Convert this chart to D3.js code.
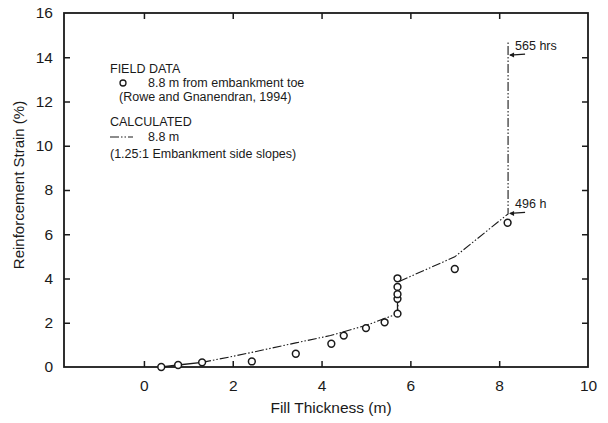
<!DOCTYPE html>
<html>
<head>
<meta charset="utf-8">
<script src="https://cdn.jsdelivr.net/npm/d3@7"></script>
<style>
  html, body { margin: 0; padding: 0; background: #fff; }
  svg { display: block; font-family: "Liberation Sans", Arial, Helvetica, sans-serif; }
</style>
</head>
<body>
<svg id="chart" width="608" height="423"></svg>
<script>
// Field measurements: fill thickness (m) vs reinforcement strain (%)
const fieldX = [0.39, 0.77, 1.31, 2.43, 3.42, 4.22, 4.5, 5.0, 5.42, 5.71, 5.71, 5.71, 5.71, 5.71, 7.0, 8.19];
const fieldY = [0.0, 0.09, 0.21, 0.25, 0.6, 1.05, 1.42, 1.76, 2.02, 2.41, 3.08, 3.29, 3.62, 4.01, 4.43, 6.52];

// Solid connectors between successive field readings
const linkX = [[0.39, 0.77, 1.31], [5.71, 5.71]];
const linkY = [[0.0, 0.09, 0.21], [2.41, 3.62]];

// Calculated strain, 8.8 m from embankment toe
const calcX = [1.31, 2.0, 2.43, 3.42, 4.2, 5.0, 5.71, 5.75, 7.0, 8.2, 8.2];
const calcY = [0.21, 0.48, 0.66, 1.09, 1.42, 1.88, 2.41, 3.87, 4.98, 6.92, 14.7];

// Time annotations on the calculated curve
const noteText = ["565 hrs", "496 h"];
const noteX = [8.2, 8.2];
const noteY = [14.1, 6.94];

const xTicks = [0, 2, 4, 6, 8, 10];
const yTicks = [0, 2, 4, 6, 8, 10, 12, 14, 16];

const ink = "#1a1a1a";
const svg = d3.select("#chart");
const m = { left: 64, right: 588, top: 13, bottom: 367 };

const x = d3.scaleLinear().domain([-1.8, 10]).range([m.left, m.right]);
const y = d3.scaleLinear().domain([0, 16]).range([m.bottom, m.top]);

// Axes: ticks on all four sides, pointing into the plot
const tickLen = 6;
svg.append("g").attr("transform", `translate(0,${m.bottom})`)
  .call(d3.axisBottom(x).tickValues(xTicks).tickSize(-tickLen).tickPadding(13).tickFormat(d3.format("d")))
  .call(g => g.selectAll(".tick line").filter(d => d === 10).remove());
svg.append("g").attr("transform", `translate(0,${m.top})`)
  .call(d3.axisTop(x).tickValues(xTicks.filter(d => d < 10)).tickSize(-tickLen).tickFormat(""));
svg.append("g").attr("transform", `translate(${m.left},0)`)
  .call(d3.axisLeft(y).tickValues(yTicks).tickSize(-tickLen).tickPadding(11).tickFormat(d3.format("d")))
  .call(g => g.selectAll(".tick line").filter(d => d === 0 || d === 16).remove());
svg.append("g").attr("transform", `translate(${m.right},0)`)
  .call(d3.axisRight(y).tickValues(yTicks.filter(d => d > 0 && d < 16)).tickSize(-tickLen).tickFormat(""));

svg.selectAll(".domain").remove();
svg.selectAll(".tick line").attr("stroke", ink).attr("stroke-width", 1.5);
svg.selectAll(".tick text").attr("fill", ink).attr("font-size", 15.5).attr("font-family", "Liberation Sans, Arial, sans-serif");

// Plot frame
svg.append("rect")
  .attr("x", m.left).attr("y", m.top)
  .attr("width", m.right - m.left).attr("height", m.bottom - m.top)
  .attr("fill", "none").attr("stroke", ink).attr("stroke-width", 1.8);

// Axis titles
svg.append("text")
  .attr("x", 331).attr("y", 413)
  .attr("text-anchor", "middle").attr("font-size", 15.5).attr("fill", ink)
  .text("Fill Thickness (m)");
svg.append("text")
  .attr("transform", `translate(24,185) rotate(-90)`)
  .attr("text-anchor", "middle").attr("font-size", 15).attr("fill", ink)
  .text("Reinforcement Strain (%)");

const line = d3.line().x(d => x(d[0])).y(d => y(d[1]));

// Calculated curve (dash-dot-dot)
svg.append("path")
  .datum(d3.zip(calcX, calcY))
  .attr("d", line)
  .attr("fill", "none").attr("stroke", ink).attr("stroke-width", 1.1)
  .attr("stroke-dasharray", "9,2,1.5,2,1.5,2");

// Solid connectors
linkX.forEach((xs, i) => {
  svg.append("path")
    .datum(d3.zip(xs, linkY[i]))
    .attr("d", line)
    .attr("fill", "none").attr("stroke", ink).attr("stroke-width", 1.3);
});

// Field data points
svg.append("g").selectAll("circle")
  .data(d3.zip(fieldX, fieldY))
  .join("circle")
  .attr("cx", d => x(d[0])).attr("cy", d => y(d[1])).attr("r", 3.4)
  .attr("fill", "#fff").attr("stroke", ink).attr("stroke-width", 1.5);

// Annotation arrows and labels
const notes = svg.append("g");
noteText.forEach((t, i) => {
  const px = x(noteX[i]), py = y(noteY[i]);
  notes.append("line")
    .attr("x1", px + 2).attr("y1", py).attr("x2", px + 17).attr("y2", py - 1)
    .attr("stroke", ink).attr("stroke-width", 1.3);
  notes.append("path")
    .attr("d", `M${px + 1},${py} l5,-2.5 l0,5 z`)
    .attr("fill", ink);
  notes.append("text")
    .attr("x", px + 7).attr("y", py - 5)
    .attr("font-size", 12.5).attr("fill", ink)
    .text(t);
});

// Legend
const lg = svg.append("g").attr("font-size", 12.5).attr("fill", ink);
lg.append("text").attr("x", 110).attr("y", 73).text("FIELD DATA");
lg.append("circle").attr("cx", 123).attr("cy", 83).attr("r", 3)
  .attr("fill", "#fff").attr("stroke", ink).attr("stroke-width", 1.3);
lg.append("text").attr("x", 148).attr("y", 87).text("8.8 m  from embankment toe");
lg.append("text").attr("x", 119).attr("y", 101).text("(Rowe and Gnanendran, 1994)");
lg.append("text").attr("x", 110).attr("y", 126).text("CALCULATED");
lg.append("line").attr("x1", 110).attr("y1", 137).attr("x2", 133).attr("y2", 137)
  .attr("stroke", ink).attr("stroke-width", 1.1).attr("stroke-dasharray", "9,2,1.5,2,1.5,2");
lg.append("text").attr("x", 148).attr("y", 141).text("8.8 m");
lg.append("text").attr("x", 110).attr("y", 158).text("(1.25:1 Embankment side slopes)");
</script>
</body>
</html>
